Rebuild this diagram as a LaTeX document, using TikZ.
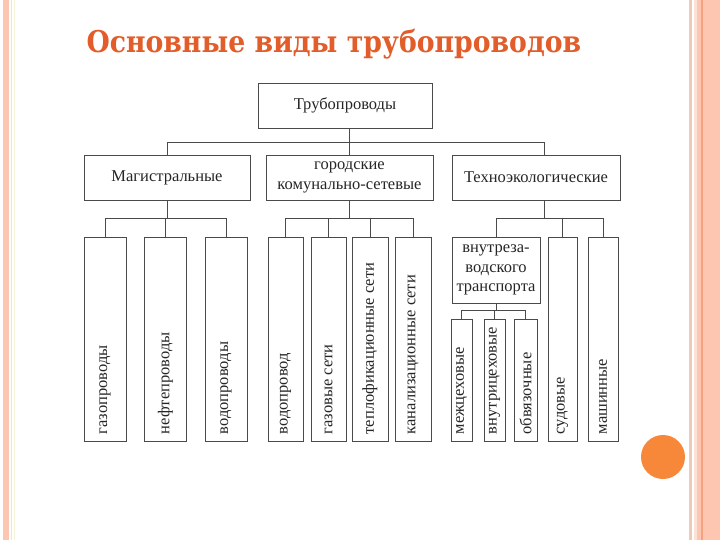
\documentclass[tikz,border=0pt]{standalone}
\usepackage{fontspec}
\setmainfont{Liberation Serif}
\newfontfamily\titlefont{DejaVu Serif}[FakeStretch=0.89]
\usepackage{tikz}
\definecolor{stripe}{HTML}{FDC6B0}
\definecolor{stripedark}{HTML}{F4A27F}
\definecolor{stripepale}{HTML}{FBE2D8}
\definecolor{stripetan}{HTML}{EDCBB8}
\definecolor{stripelilac}{HTML}{E9E2F0}
\definecolor{stripecream}{HTML}{F7F2D6}
\definecolor{titleorange}{HTML}{E25D29}
\definecolor{dotorange}{HTML}{F7883A}
\definecolor{boxline}{HTML}{4A4A4A}

\begin{document}
\begin{tikzpicture}[x=1pt,y=-1pt, font=\fontsize{16.5}{19.5}\selectfont,
  box/.style={draw=boxline, line width=0.9pt, inner sep=0pt, align=center, text=black!85},
  leaf/.style={box, minimum height=204},
  subleaf/.style={box, minimum height=122},
  vlabel/.style={rotate=90, anchor=west, inner sep=0pt, text=black!85},
  wire/.style={draw=boxline, line width=0.9pt}]
\useasboundingbox (0,0) rectangle (720,540);
\fill[white] (0,0) rectangle (720,540);
% side stripes
\fill[stripe] (2.7,0) rectangle (9.3,540);
\fill[stripelilac] (11,0) rectangle (12.2,540);
\fill[stripecream] (14,0) rectangle (15.2,540);
\fill[stripetan] (689,0) rectangle (691.5,540);
\fill[stripepale] (694,0) rectangle (697,540);
\fill[stripe] (697,0) rectangle (720,540);
\fill[stripedark] (701,0) rectangle (702.7,540);
\fill[dotorange] (663,457) circle (22);

\node[font=\titlefont\bfseries\fontsize{30}{30}\selectfont, text=titleorange, anchor=base west]
  (title) at (83,53) {Основные виды трубопроводов};

\node[box, minimum width=174, minimum height=45] (top) at (345,105.5) {Трубопроводы};
\node[box, minimum width=166, minimum height=45] (mag) at (167,177.5) {Магистральные};
\node[box, minimum width=167, minimum height=45] (gor) at (349.5,177.5) {городские\\комунально-сетевые};
\node[box, minimum width=168, minimum height=45] (tech) at (536,177.5) {Техноэкологические};
\node[box, minimum width=88, minimum height=66] (vn) at (496,270) {внутреза-\\водского\\транспорта};

\foreach \name/\cx/\w/\txt in {ml1/105/42/газопроводы, ml2/165.5/42/нефтепроводы,
    ml3/226/42/водопроводы, gl1/285.5/35/водопровод, gl2/328.5/35/газовые сети,
    gl3/370/36/теплофикационные сети, gl4/413/36/канализационные сети,
    sud/562.5/29/судовые, mash/603/30/машинные}{
  \node[leaf, minimum width=\w] (\name) at (\cx,339) {};
  \node[vlabel] (\name-t) at ([yshift=7pt]\name.south) {\txt};
}
\foreach \name/\cx/\w/\txt in {s1/461.5/21/межцеховые, s2/494.5/21/внутрицеховые, s3/525.5/23/обвязочные}{
  \node[subleaf, minimum width=\w] (\name) at (\cx,380) {};
  \node[vlabel] (\name-t) at ([yshift=7pt]\name.south) {\txt};
}

\draw[wire] (top.south -| gor.north) -- (gor.north);
\draw[wire] (mag.north) -- ++(0,-12) -| ([xshift=8pt]tech.north);
\foreach \leaf in {ml1,ml2,ml3} \draw[wire] (mag.south) -- ++(0,18) -| (\leaf.north);
\foreach \leaf in {gl1,gl2,gl3,gl4} \draw[wire] (gor.south) -- ++(0,18) -| (\leaf.north);
\foreach \leaf in {vn,sud,mash} \draw[wire] ([xshift=8pt]tech.south) -- ++(0,18) -| (\leaf.north);
\foreach \leaf in {s1,s2,s3} \draw[wire] (vn.south) -- ++(0,7) -| (\leaf.north);
\end{tikzpicture}
\end{document}
